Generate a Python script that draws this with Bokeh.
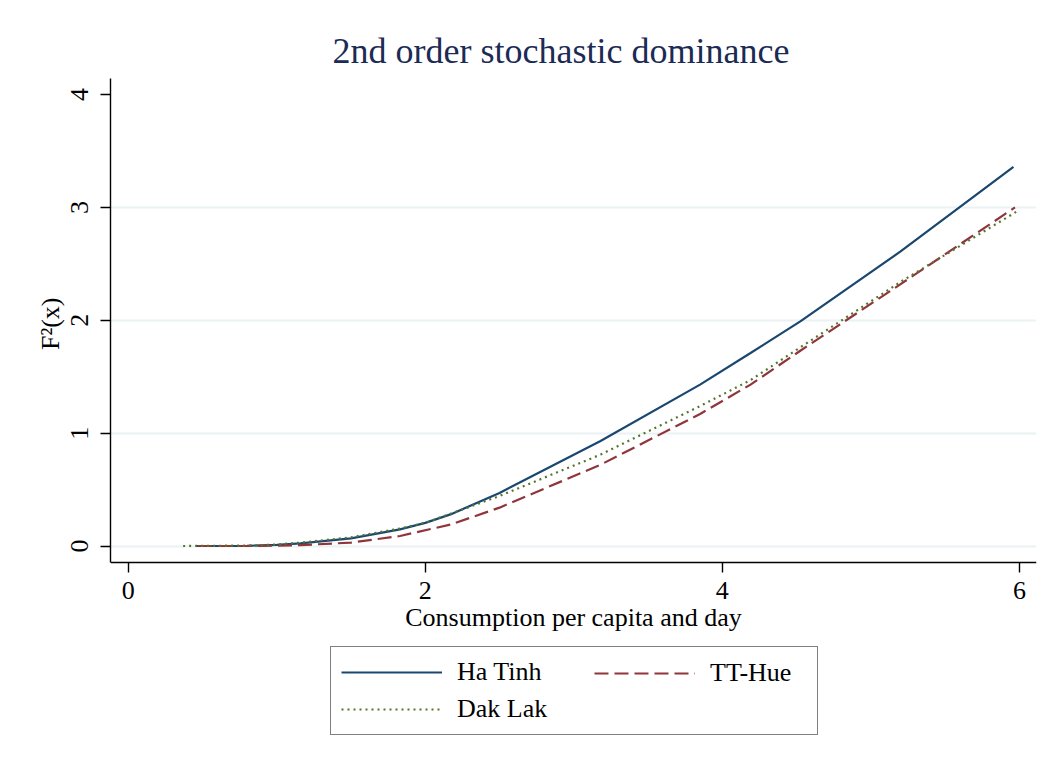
from bokeh.plotting import figure
from bokeh.models import Range1d, FixedTicker, Legend, LegendItem, Title
from bokeh.embed import file_html
from bokeh.resources import INLINE

# ---- data ----
ha_tinh_x = [0.46, 0.8, 1.0, 1.16, 1.5, 1.83, 2.0, 2.17, 2.5, 3.18, 3.85, 4.19, 4.525, 5.2, 5.96]
ha_tinh_y = [0.0, 0.002, 0.01, 0.024, 0.068, 0.148, 0.205, 0.28, 0.47, 0.93, 1.43, 1.71, 1.99, 2.61, 3.36]

tt_hue_x = [0.47, 0.8, 1.0, 1.16, 1.5, 1.83, 2.17, 2.5, 3.18, 3.85, 4.19, 4.525, 5.2, 5.97]
tt_hue_y = [0.0, 0.0, 0.003, 0.008, 0.03, 0.089, 0.19, 0.34, 0.72, 1.17, 1.43, 1.73, 2.32, 3.0]

dak_lak_x = [0.37, 0.8, 1.0, 1.16, 1.5, 1.83, 2.0, 2.5, 3.18, 3.85, 4.19, 4.525, 5.2, 5.99]
dak_lak_y = [0.0, 0.004, 0.013, 0.03, 0.077, 0.155, 0.205, 0.443, 0.81, 1.24, 1.47, 1.76, 2.34, 2.97]

x_ticks = [0, 2, 4, 6]
y_ticks = [0, 1, 2, 3, 4]
y_grid = [0, 1, 2, 3]

title_text = "2nd order stochastic dominance"
x_label = "Consumption per capita and day"
y_label = "F\u00b2(x)"
series_names = ["Ha Tinh", "TT-Hue", "Dak Lak"]

FONT = "Liberation Serif"
C_HA = "#1a476f"
C_TT = "#90353b"
C_DL = "#55752f"

# plot region y-limits; the frame extends further down to hold the legend
Y_LO, Y_HI = -0.146, 4.142
Y_FRAME_LO = -1.98

p = figure(width=1055, height=769, output_backend="svg", toolbar_location=None,
           x_range=Range1d(-0.119, 6.115), y_range=Range1d(Y_FRAME_LO, Y_HI),
           min_border_left=110, min_border_right=19, min_border_top=78, min_border_bottom=0)

p.outline_line_color = None
p.background_fill_color = "white"
p.border_fill_color = "white"

# title
p.title.text = title_text
p.title.text_font = FONT
p.title.text_font_size = "36px"
p.title.text_font_style = "normal"
p.title.text_color = "#1c2b55"
p.title.align = "left"
p.title.offset = 222
p.title.standoff = 15

# grid
p.xgrid.visible = False
p.ygrid.ticker = FixedTicker(ticks=y_grid)
p.ygrid.grid_line_color = "#eaf2f3"
p.ygrid.grid_line_width = 2

# axes
for ax in (p.xaxis[0], p.yaxis[0]):
    ax.axis_line_color = "black"
    ax.axis_line_width = 1.4
    ax.major_tick_line_color = "black"
    ax.major_tick_line_width = 1.4
    ax.major_tick_out = 10
    ax.major_tick_in = 0
    ax.minor_tick_line_color = None
    ax.major_label_text_font = FONT
    ax.major_label_text_font_size = "26px"
    ax.major_label_text_color = "black"
    ax.axis_label_text_font = FONT
    ax.axis_label_text_font_size = "26px"
    ax.axis_label_text_font_style = "normal"
    ax.axis_label_text_color = "black"

p.xaxis.ticker = FixedTicker(ticks=x_ticks)
p.yaxis.ticker = FixedTicker(ticks=y_ticks)
p.xaxis.axis_label = x_label
p.yaxis.major_label_orientation = "vertical"
p.xaxis.fixed_location = Y_LO
p.yaxis.bounds = (Y_LO, Y_HI)
p.xaxis.major_label_standoff = 10
p.xaxis.axis_label_standoff = 0
p.yaxis.major_label_standoff = 12

# y-axis title, centred on the plot region (not the whole frame)
y_title = Title(text=y_label, align="right", offset=219, standoff=8,
                text_font=FONT, text_font_size="26px", text_font_style="normal",
                text_color="black")
p.add_layout(y_title, "left")

# lines
r_ha = p.line(ha_tinh_x, ha_tinh_y, line_color=C_HA, line_width=2.2)
r_tt = p.line(tt_hue_x, tt_hue_y, line_color=C_TT, line_width=2.2, line_dash="14 6")
r_dl = p.line(dak_lak_x, dak_lak_y, line_color=C_DL, line_width=2.2, line_dash="2 4")

# legend: box with column 1, plus an overlaid column 2
leg_a = Legend(items=[LegendItem(label=series_names[0], renderers=[r_ha]),
                      LegendItem(label=series_names[2], renderers=[r_dl])],
               location=(220, 34), orientation="vertical",
               padding=10, spacing=7, glyph_width=101, glyph_height=30,
               label_width=350, label_height=30, label_standoff=15,
               label_text_font=FONT, label_text_font_size="26px", label_text_color="black",
               border_line_color="black", border_line_width=1.3,
               background_fill_color="white", background_fill_alpha=1.0,
               margin=0)
leg_b = Legend(items=[LegendItem(label=series_names[1], renderers=[r_tt])],
               location=(474, 71), orientation="vertical",
               padding=10, spacing=7, glyph_width=101, glyph_height=30,
               label_width=80, label_height=30, label_standoff=15,
               label_text_font=FONT, label_text_font_size="26px", label_text_color="black",
               border_line_alpha=0, background_fill_alpha=0,
               margin=0)
p.add_layout(leg_a, "center")
p.add_layout(leg_b, "center")

open("out.html", "w").write(file_html(p, INLINE))
